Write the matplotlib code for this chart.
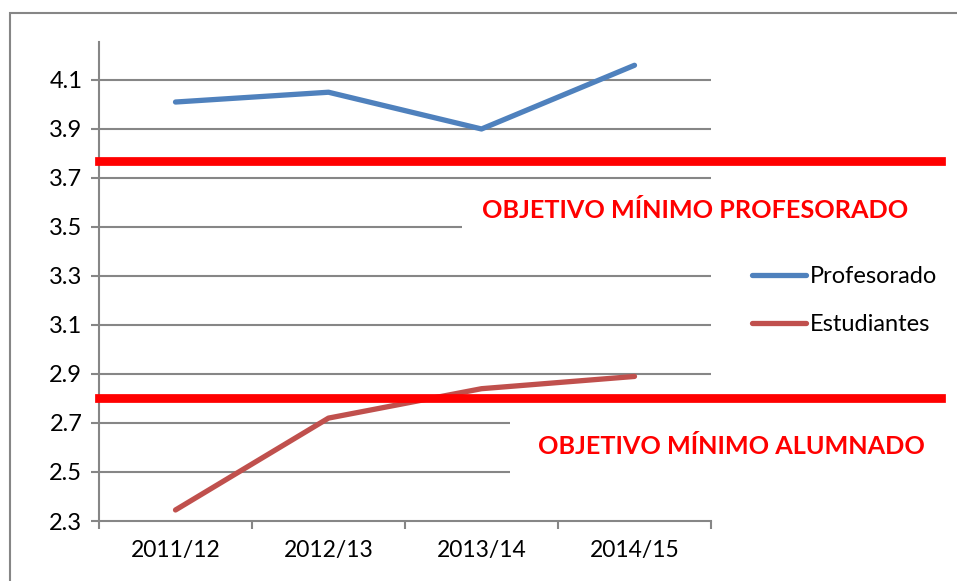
import numpy as np
import matplotlib.pyplot as plt
from matplotlib.patches import Rectangle

plt.rcParams['font.family'] = ['Lato', 'DejaVu Sans']

years = ['2011/12', '2012/13', '2013/14', '2014/15']
profesorado = [4.01, 4.05, 3.90, 4.16]
estudiantes = [2.345, 2.72, 2.84, 2.89]
obj_prof = 3.77
obj_alum = 2.80
yticks = [2.3, 2.5, 2.7, 2.9, 3.1, 3.3, 3.5, 3.7, 3.9, 4.1]

grey = '#868686'
W, H = 957, 581

fig = plt.figure(figsize=(W / 100, H / 100), dpi=100)
ax = fig.add_axes([99 / W, 1 - 521 / H, 612 / W, 479 / H])

# outer frame of the chart object
fig.patches.append(Rectangle((10 / W, -0.1), 1.2, 1.1 - 13 / H, transform=fig.transFigure,
                             fill=False, edgecolor=grey, lw=1.5))

x = np.arange(len(years))
ax.set_xlim(-0.5, 3.5)
ax.set_ylim(2.3, 4.255)

for yv in yticks[1:]:
    ax.axhline(yv, color=grey, lw=1.5, zorder=1)

ax.plot(x, profesorado, color='#4F81BD', lw=3.8, solid_capstyle='round', label='Profesorado', zorder=3)
ax.plot(x, estudiantes, color='#C0504D', lw=3.8, solid_capstyle='round', label='Estudiantes', zorder=3)

# target lines run past the plot area to the right edge
ax.plot([-0.5, 5.0], [obj_prof, obj_prof], color='#FF0000', lw=6.3, clip_on=False, zorder=4)
ax.plot([-0.5, 5.0], [obj_alum, obj_alum], color='#FF0000', lw=6.3, clip_on=False, zorder=4)

# white text boxes that hide part of the gridlines
ax.add_patch(Rectangle((1.873, 3.44), 3.0, 0.18, facecolor='white', edgecolor='none',
                       clip_on=False, zorder=2))
ax.add_patch(Rectangle((2.187, 2.46), 3.0, 0.29, facecolor='white', edgecolor='none',
                       clip_on=False, zorder=2))
ax.text(695 / W, 1 - 210 / H, 'OBJETIVO MÍNIMO PROFESORADO', transform=fig.transFigure,
        ha='center', va='center', color='#FF0000', fontsize=18.2, fontweight='bold', zorder=5)
ax.text(731 / W, 1 - 447 / H, 'OBJETIVO MÍNIMO ALUMNADO', transform=fig.transFigure,
        ha='center', va='center', color='#FF0000', fontsize=18.2, fontweight='bold', zorder=5)

ax.set_yticks(yticks)
ax.set_yticklabels([f'{v:.1f}' for v in yticks])
ax.set_xticks(x)
ax.set_xticklabels(years)
ax.set_xticks(np.arange(-0.5, 4.0, 1.0), minor=True)
ax.tick_params(axis='x', which='major', length=0, pad=14, labelsize=16.5)
ax.tick_params(axis='x', which='minor', length=6, width=1.5, color=grey)
ax.tick_params(axis='y', length=6, width=1.5, color=grey, labelsize=17, pad=6)

for sp in ['top', 'right']:
    ax.spines[sp].set_visible(False)
for sp in ['left', 'bottom']:
    ax.spines[sp].set_color(grey)
    ax.spines[sp].set_linewidth(1.5)

ax.legend(loc='center left', bbox_to_anchor=(752 / W, 1 - 300.5 / H), bbox_transform=fig.transFigure,
          frameon=False, fontsize=17, handlelength=2.3, handletextpad=0.15, labelspacing=1.15,
          borderpad=0, borderaxespad=0)

fig.savefig('out.png', dpi=100)
